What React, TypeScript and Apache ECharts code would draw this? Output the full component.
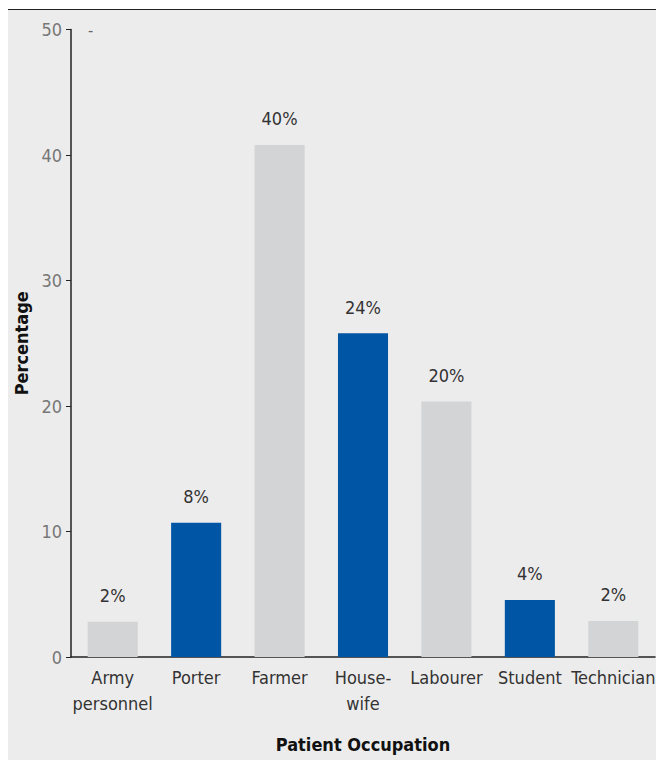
import React, { useEffect, useRef } from "react";
import * as echarts from "echarts";

const categories = ["Army\npersonnel", "Porter", "Farmer", "House-\nwife", "Labourer", "Student", "Technician"];
const barHeights = [2.8, 10.7, 40.8, 25.8, 20.35, 4.55, 2.87];
const barLabels = ["2%", "8%", "40%", "24%", "20%", "4%", "2%"];
const barColors = ["#d3d4d6", "#0055a4", "#d3d4d6", "#0055a4", "#d3d4d6", "#0055a4", "#d3d4d6"];
const yTicks = [0, 10, 20, 30, 40, 50];

const FONT = "'Liberation Sans Narrow', 'DejaVu Sans Condensed', 'Roboto', sans-serif";

export default function App() {
  const ref = useRef<HTMLDivElement>(null);
  useEffect(() => {
    if (!ref.current) return;
    const chart = echarts.init(ref.current, undefined, { renderer: "svg" });
    chart.setOption({
      animation: false,
      backgroundColor: "#ececec",
      grid: { left: 63, right: 1, top: 19.5, bottom: 103, containLabel: false, outerBoundsMode: "none" },
      xAxis: {
        type: "category",
        data: categories,
        name: "Patient Occupation",
        nameLocation: "middle",
        nameGap: 78,
        nameTextStyle: { fontFamily: FONT, fontSize: 18, fontWeight: "bold", color: "#111" },
        axisLine: { lineStyle: { color: "#222", width: 1.5 } },
        axisTick: { show: false },
        axisLabel: {
          fontFamily: FONT,
          fontSize: 18,
          color: "#333",
          margin: 7,
          lineHeight: 26,
          interval: 0,
        },
      },
      yAxis: {
        type: "value",
        min: yTicks[0],
        max: yTicks[yTicks.length - 1],
        interval: 10,
        name: "Percentage",
        nameLocation: "middle",
        nameGap: 32,
        nameTextStyle: { fontFamily: FONT, fontSize: 18, fontWeight: "bold", color: "#111" },
        axisLine: { show: true, lineStyle: { color: "#222", width: 1.5 } },
        axisTick: { show: true, length: 5, lineStyle: { color: "#222" } },
        splitLine: { show: false },
        axisLabel: { fontFamily: FONT, fontSize: 18, color: "#777", margin: 9 },
      },
      series: [
        {
          type: "bar",
          barCategoryGap: "40%",
          data: barHeights.map((v, i) => ({
            value: v,
            itemStyle: { color: barColors[i] },
            label: { formatter: barLabels[i] },
          })),
          label: {
            show: true,
            position: "top",
            distance: 17,
            fontFamily: FONT,
            fontSize: 18,
            color: "#333",
          },
        },
      ],
      graphic: [
        {
          type: "text",
          left: 80,
          top: 12,
          style: { text: "-", fontFamily: FONT, fontSize: 16, fill: "#666" },
        },
      ],
    });
    return () => chart.dispose();
  }, []);
  return (
    <div
      style={{
        position: "fixed",
        left: 8,
        top: 9,
        width: 648,
        height: 751,
        borderTop: "1.5px solid #222",
        background: "#ececec",
      }}
    >
      <div ref={ref} style={{ width: 648, height: 750 }} />
    </div>
  );
}
